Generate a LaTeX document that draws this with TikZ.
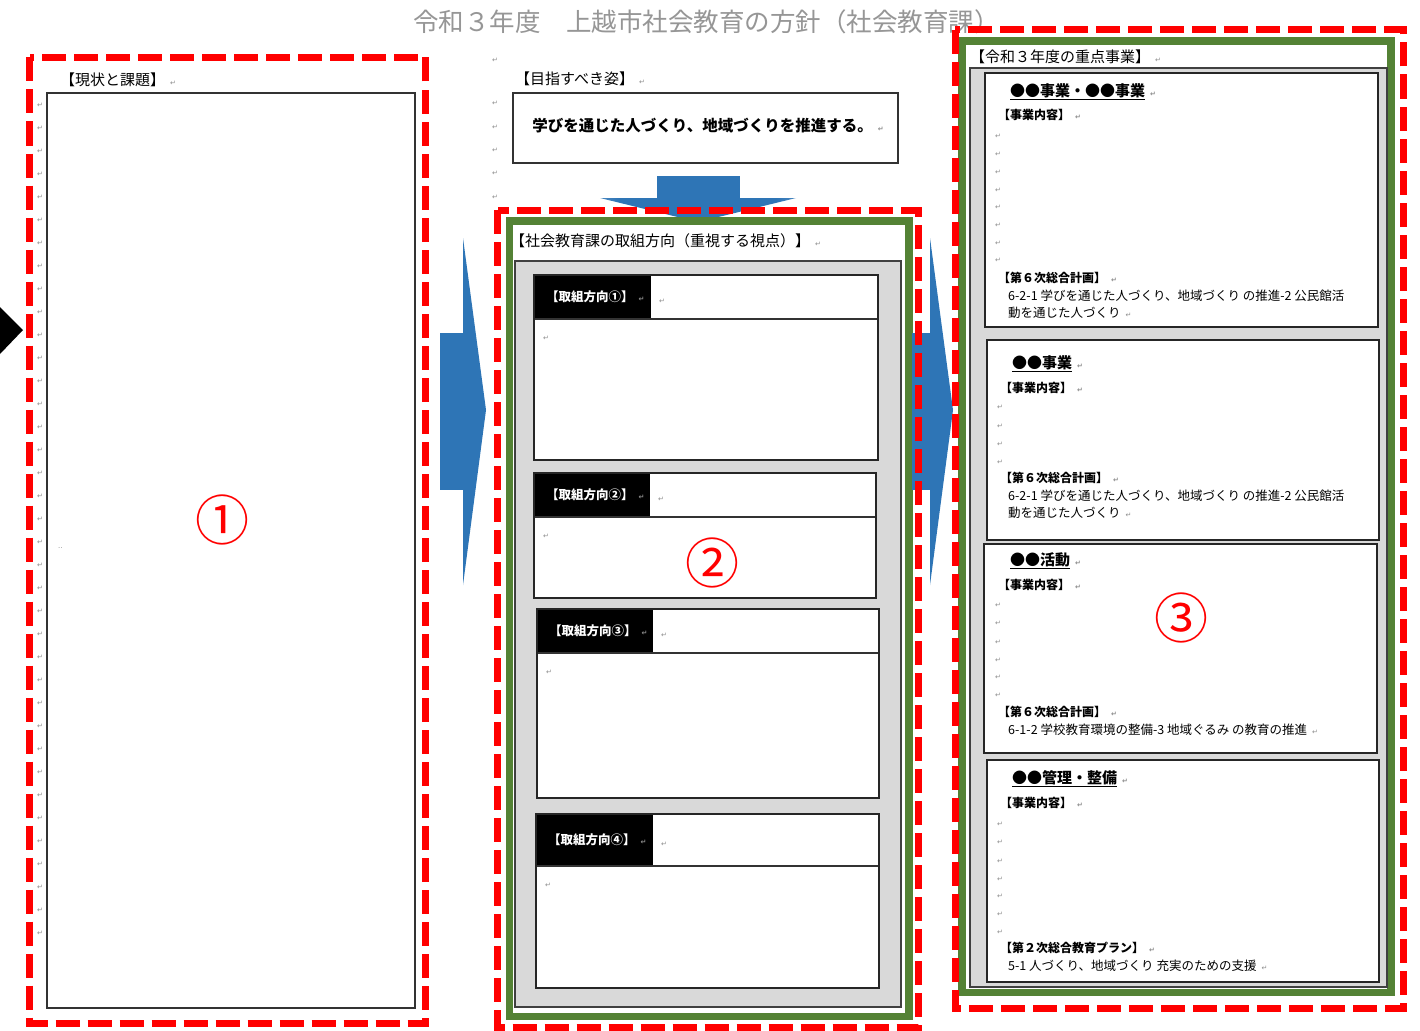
\documentclass[tikz,border=0pt]{standalone}
\usepackage{fontspec}
\setmainfont{Noto Sans CJK JP}
\newfontfamily\dejavu{DejaVu Sans}
\definecolor{grn}{RGB}{84,130,53}
\definecolor{lgray}{RGB}{217,217,217}
\definecolor{ablue}{RGB}{46,117,182}
\definecolor{ablueL}{RGB}{215,230,245}
\definecolor{ttlgray}{RGB}{150,150,150}
\definecolor{pmgray}{RGB}{140,140,140}
\pgfdeclareverticalshading{fadev}{100bp}{color(0bp)=(ablueL); color(22bp)=(ablue); color(78bp)=(ablue); color(100bp)=(ablueL)}
\pgfdeclarehorizontalshading{fadeh}{100bp}{color(0bp)=(ablueL); color(30bp)=(ablue); color(70bp)=(ablue); color(100bp)=(ablueL)}
\newcommand\pmk{\hspace{5pt}{\dejavu\fontsize{7}{7}\selectfont\color{pmgray}↵}}
\begin{document}
\begin{tikzpicture}[x=1pt,y=-1pt,
  reddash/.style={draw=red, line width=7pt, dash pattern=on 24pt off 8pt},
  greenbox/.style={draw=grn, line width=7.5pt},
  graybox/.style={fill=lgray, draw=black!75, line width=1.2pt},
  itembox/.style={fill=white, draw=black!85, line width=2.2pt},
  lbl/.style={inner sep=0pt, anchor=west, font=\fontsize{15}{15}\selectfont},
  pm/.style={inner sep=0pt, anchor=west, text=pmgray, font=\dejavu\fontsize{7}{7}\selectfont},
  circnum/.style={text=red, font=\fontsize{54}{54}\selectfont, inner sep=0pt},
  hdrtxt/.style={inner sep=0pt, anchor=west, text=white, font=\bfseries\fontsize{12.5}{12.5}\selectfont},
  ttl/.style={inner sep=0pt, anchor=west, font=\bfseries\fontsize{15}{15}\selectfont},
  sub/.style={inner sep=0pt, anchor=west, font=\bfseries\fontsize{12}{12}\selectfont},
  body/.style={inner sep=0pt, anchor=west, font=\fontsize{12.5}{12.5}\selectfont}
]
\useasboundingbox (0,0) rectangle (1420,1030);
\fill[white] (0,0) rectangle (1420,1030);

% title
\node[anchor=west, inner sep=0pt, text=ttlgray, font=\fontsize{25.5}{25.5}\selectfont] (title) at (413,22) {令和３年度　上越市社会教育の方針（社会教育課）\pmk};

% black triangle at left edge
\fill[black] (0,307) -- (23,330) -- (0,354) -- cycle;

% ---------- left panel ----------
\node[lbl] (genjo) at (60,80) {【現状と課題】\pmk};
\draw[line width=2pt, draw=black!80] (47,93) rectangle (415,1008);
\foreach \k in {0,...,36} \node[pm] (lm\k) at (37,{105+23*\k}) {↵};
\node[pm] (dd) at (58,548) {..};
\node[circnum] (c1) at (222,520) {①};
\draw[reddash] (29.5,57.5) rectangle (425.5,1023.5);

% left blue arrow
\fill[ablue] (440,333) rectangle (464,490);
\shade[shading=fadev] (463,238) -- (486,410) -- (463,585) -- cycle;

% ---------- middle panel ----------
\node[lbl] (mezasu) at (515,79) {【目指すべき姿】\pmk};
\foreach \yy [count=\i] in {60,103,127,150,173,197} \node[pm] (mm\i) at (492,\yy) {↵};
\draw[line width=1.6pt, draw=black!80] (513,93) rectangle (898,163);
\node[inner sep=0pt, font=\bfseries\fontsize{15.5}{15.5}\selectfont] (goal) at (708,126) {学びを通じた人づくり、地域づくりを推進する。\pmk};

% down arrow
\fill[ablue] (657,176) rectangle (740,199);
\shade[shading=fadeh] (600,198) -- (796,198) -- (698,222) -- cycle;

\draw[greenbox, fill=white] (509.5,221) rectangle (909,1016.5);
\node[lbl] (hoko) at (510,241) {【社会教育課の取組方向（重視する視点）】\pmk};
\draw[graybox] (515,261) rectangle (901,1007);

\foreach \xa/\xb/\ya/\yb/\yc/\xk/\n [count=\i] in
  {534/878/275/319/460/651/①, 534/876/473/517/598/650/②,
   537/879/609/653/798/653/③, 536/879/814/866/988/653/④}{
  \fill[white] (\xa,\ya) rectangle (\xb,\yc);
  \fill[black] (\xa,\ya) rectangle (\xk,\yb);
  \draw[black!80, line width=1.6pt] (\xa,\yb) -- (\xb,\yb);
  \draw[black!85, line width=1.6pt] (\xa,\ya) rectangle (\xb,\yc);
  \node[hdrtxt] (hd\i) at (\xa+12,{(\ya+\yb)/2}) {【取組方向\n】\hspace{5pt}{\dejavu\fontsize{7}{7}\selectfont\color{pmgray}↵}};
  \node[pm] (hw\i) at (\xk+8,{(\ya+\yb)/2+4}) {↵};
  \node[pm] (hb\i) at (\xa+9,\yb+19) {↵};
}
\node[circnum] (c2) at (712,563) {②};

% right blue arrow (under red dashes)
\fill[ablue] (912,333) rectangle (932,490);
\shade[shading=fadev] (930,238) -- (953,410) -- (930,585) -- cycle;

\draw[reddash] (497.5,210) rectangle (918,1027);

% ---------- right panel ----------
\draw[greenbox, fill=white] (962,41) rectangle (1391,992.5);
\node[lbl] (juten) at (970,57) {【令和３年度の重点事業】\pmk};
\draw[graybox] (970,68) rectangle (1387,987);

% item 1
\draw[itembox] (985,73) rectangle (1378,327);
\node[ttl] (t1) at (1010,92) {\underline{●●事業・●●事業}\pmk};
\node[sub] (s1) at (998,115) {【事業内容】\pmk};
\foreach \yy [count=\i] in {136,154,172,190,207,225,243,260} \node[pm] (ma\i) at (995,\yy) {↵};
\node[sub] (p1) at (998,278) {【第６次総合計画】\pmk};
\node[body] (b1a) at (1008,296) {6-2-1 学びを通じた人づくり、地域づくり の推進-2 公民館活};
\node[body] (b1b) at (1008,313) {動を通じた人づくり\pmk};

% item 2
\draw[itembox] (987,340) rectangle (1379,540);
\node[ttl] (t2) at (1012,364) {\underline{●●事業}\pmk};
\node[sub] (s2) at (1000,388) {【事業内容】\pmk};
\foreach \yy [count=\i] in {407,426,444,462} \node[pm] (mb\i) at (997,\yy) {↵};
\node[sub] (p2) at (1000,478) {【第６次総合計画】\pmk};
\node[body] (b2a) at (1008,496) {6-2-1 学びを通じた人づくり、地域づくり の推進-2 公民館活};
\node[body] (b2b) at (1008,513) {動を通じた人づくり\pmk};

% item 3
\draw[itembox] (984,544) rectangle (1377,753);
\node[ttl] (t3) at (1010,561) {\underline{●●活動}\pmk};
\node[sub] (s3) at (998,585) {【事業内容】\pmk};
\foreach \yy [count=\i] in {605,623,642,660,677,695} \node[pm] (mc\i) at (995,\yy) {↵};
\node[sub] (p3) at (998,712) {【第６次総合計画】\pmk};
\node[body] (b3a) at (1008,730) {6-1-2 学校教育環境の整備-3 地域ぐるみ の教育の推進\pmk};

% item 4
\draw[itembox] (987,760) rectangle (1379,982);
\node[ttl] (t4) at (1012,779) {\underline{●●管理・整備}\pmk};
\node[sub] (s4) at (1000,803) {【事業内容】\pmk};
\foreach \yy [count=\i] in {824,842,861,879,896,914,932} \node[pm] (md\i) at (997,\yy) {↵};
\node[sub] (p4) at (1000,948) {【第２次総合教育プラン】\pmk};
\node[body] (b4a) at (1008,966) {5-1 人づくり、地域づくり 充実のための支援\pmk};

\node[circnum] (c3) at (1181,618) {③};
\draw[reddash] (955,30) rectangle (1403.5,1008);
\end{tikzpicture}
\end{document}
